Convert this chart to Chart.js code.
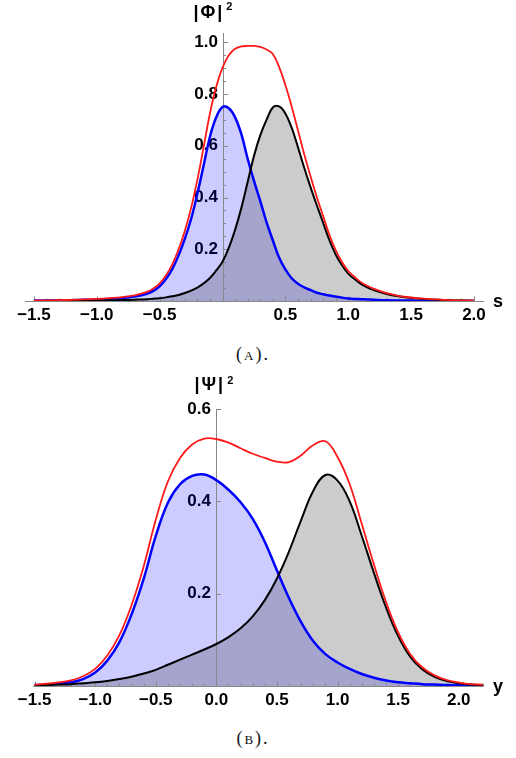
<!DOCTYPE html>
<html>
<head>
<meta charset="utf-8">
<script src="https://cdn.jsdelivr.net/npm/chart.js@4.4.1/dist/chart.umd.min.js"></script>
<style>
  body { margin: 0; background: #fff; width: 516px; height: 758px; position: relative; overflow: hidden; }
  canvas { position: absolute; left: 0; }
  .caption {
    position: absolute; left: 0; width: 506px; text-align: center;
    font-family: "Liberation Serif", "DejaVu Serif", serif; font-size: 18px;
    letter-spacing: 2px; color: #111;
  }
  .caption .sc { font-size: 13px; }
</style>
</head>
<body>
<canvas id="chartA" width="516" height="330" style="top:0"></canvas>
<div class="caption" style="top:344px">(<span class="sc">A</span>).</div>
<canvas id="chartB" width="516" height="345" style="top:370px"></canvas>
<div class="caption" style="top:728px">(<span class="sc">B</span>).</div>
<script>
// panel (A): |Phi|^2 against s
const sA = [-1.5, -1.3, -1.1, -1.0, -0.9, -0.8, -0.7, -0.6, -0.55, -0.5, -0.45, -0.4, -0.35, -0.3, -0.25, -0.2, -0.15, -0.1, -0.05, 0,
  0.05, 0.1, 0.15, 0.2, 0.25, 0.3, 0.35, 0.4, 0.45, 0.5, 0.55, 0.6, 0.65, 0.7, 0.75, 0.8, 0.85, 0.9, 0.95, 1.0,
  1.05, 1.1, 1.15, 1.2, 1.3, 1.4, 1.5, 1.6, 1.8, 2.0];
const blueA = [0.0015, 0.0025, 0.0045, 0.006, 0.008, 0.011, 0.017, 0.028, 0.039, 0.057, 0.085, 0.123, 0.176, 0.240, 0.317, 0.415, 0.525, 0.635, 0.710, 0.750,
  0.745, 0.710, 0.645, 0.550, 0.465, 0.387, 0.305, 0.235, 0.168, 0.122, 0.088, 0.067, 0.053, 0.042, 0.032, 0.026, 0.021, 0.017, 0.013, 0.010,
  0.008, 0.007, 0.006, 0.005, 0.003, 0.002, 0.0015, 0.001, 0.0005, 0.0003];
const blackA = [0.0003, 0.0006, 0.0012, 0.0018, 0.0025, 0.0035, 0.005, 0.007, 0.009, 0.011, 0.014, 0.018, 0.023, 0.031, 0.040, 0.052, 0.068, 0.089, 0.118, 0.152,
  0.205, 0.275, 0.360, 0.460, 0.560, 0.640, 0.700, 0.748, 0.752, 0.725, 0.670, 0.595, 0.515, 0.440, 0.370, 0.303, 0.235, 0.180, 0.138, 0.106,
  0.085, 0.066, 0.053, 0.043, 0.028, 0.018, 0.012, 0.008, 0.003, 0.001];
const redA = [0.002, 0.003, 0.006, 0.008, 0.011, 0.015, 0.022, 0.035, 0.048, 0.068, 0.099, 0.141, 0.199, 0.271, 0.359, 0.468, 0.595, 0.725, 0.828, 0.902,
  0.950, 0.975, 0.984, 0.986, 0.986, 0.982, 0.972, 0.955, 0.905, 0.835, 0.752, 0.660, 0.567, 0.482, 0.402, 0.329, 0.256, 0.197, 0.151, 0.116,
  0.093, 0.073, 0.059, 0.048, 0.031, 0.020, 0.0135, 0.009, 0.0035, 0.0013];
const xTicksA = [-1.5, -1.0, -0.5, 0.5, 1.0, 1.5, 2.0];
const yTicksA = [0.2, 0.4, 0.6, 0.8, 1.0];

// panel (B): |Psi|^2 against y
const sB = [-1.5, -1.4, -1.3, -1.2, -1.1, -1.0, -0.9, -0.8, -0.7, -0.6, -0.5, -0.4, -0.3, -0.2, -0.1, 0.0, 0.1, 0.2, 0.3,
  0.4, 0.5, 0.6, 0.7, 0.8, 0.9, 1.0, 1.1, 1.2, 1.3, 1.4, 1.5, 1.6, 1.7, 1.8, 1.9, 2.0, 2.1, 2.2];
const blueB = [0.002, 0.003, 0.005, 0.008, 0.015, 0.029, 0.055, 0.095, 0.155, 0.232, 0.325, 0.397, 0.437, 0.455, 0.458, 0.446, 0.425, 0.398, 0.362,
  0.312, 0.250, 0.190, 0.138, 0.097, 0.069, 0.051, 0.037, 0.026, 0.018, 0.012, 0.008, 0.006, 0.004, 0.003, 0.002, 0.0015, 0.001, 0.001];
const blackB = [0.001, 0.002, 0.003, 0.004, 0.006, 0.008, 0.011, 0.015, 0.020, 0.027, 0.035, 0.046, 0.057, 0.068, 0.079, 0.091, 0.106, 0.125, 0.151,
  0.186, 0.233, 0.292, 0.360, 0.423, 0.457, 0.445, 0.400, 0.325, 0.245, 0.170, 0.108, 0.063, 0.036, 0.020, 0.011, 0.006, 0.003, 0.002];
const redB = [0.003, 0.005, 0.008, 0.012, 0.021, 0.037, 0.066, 0.110, 0.175, 0.259, 0.360, 0.443, 0.494, 0.523, 0.536, 0.535, 0.527, 0.515, 0.503,
  0.494, 0.486, 0.485, 0.500, 0.522, 0.530, 0.496, 0.437, 0.351, 0.263, 0.182, 0.116, 0.069, 0.040, 0.023, 0.013, 0.0075, 0.004, 0.003];
const xTicksB = [-1.5, -1.0, -0.5, 0.0, 0.5, 1.0, 1.5, 2.0];
const yTicksB = [0.2, 0.4, 0.6];

const FONT = "'Liberation Sans', Arial, sans-serif";
const AXIS_GREY = '#888888';

const range = (from, to, step) => {
  const out = [];
  for (let v = from; v <= to + 1e-9; v += step) out.push(Math.round(v * 1000) / 1000);
  return out;
};

const fmt = (v) => v.toFixed(1).replace('-', '\u2212');

// Mathematica-style axes: y axis line at x = 0, inward ticks, minor ticks, axis names
const axisDecor = {
  id: 'axisDecor',
  beforeDatasetsDraw(chart, args, o) {
    const {ctx, chartArea, scales: {x, y}} = chart;
    const x0 = Math.round(x.getPixelForValue(0)) + 0.5;
    const y0 = y.getPixelForValue(0);
    ctx.save();
    ctx.strokeStyle = AXIS_GREY;
    ctx.lineWidth = 1;
    ctx.beginPath();
    ctx.moveTo(x0, chartArea.top);
    ctx.lineTo(x0, chartArea.bottom);
    const xTick = (v, len) => {
      const p = Math.round(x.getPixelForValue(v)) + 0.5;
      ctx.moveTo(p, y0);
      ctx.lineTo(p, y0 - len);
    };
    const yTick = (v, len) => {
      const p = Math.round(y.getPixelForValue(v)) + 0.5;
      ctx.moveTo(x0, p);
      ctx.lineTo(x0 + len, p);
    };
    o.xMinor.forEach(v => xTick(v, 2.5));
    o.xMajor.forEach(v => xTick(v, 4.5));
    o.yMinor.forEach(v => yTick(v, 2.5));
    o.yMajor.forEach(v => yTick(v, 4.5));
    ctx.stroke();

    ctx.fillStyle = '#000';
    ctx.textBaseline = 'alphabetic';
    ctx.textAlign = 'left';
    ctx.font = 'bold 18px ' + FONT;
    ctx.fillText(o.xName, chartArea.right + 10, y0 + 5.5);

    ctx.letterSpacing = '2px';
    const lx = x0 + o.yNameDx;
    const ly = chartArea.top + o.yNameDy;
    ctx.fillText(o.yName, lx, ly);
    const w = ctx.measureText(o.yName).width;
    ctx.letterSpacing = '0px';
    ctx.font = 'bold 11px ' + FONT;
    ctx.fillText('2', lx + w + 2, ly + o.supDy);
    ctx.restore();
  }
};

const points = (xs, ys) => xs.map((v, i) => ({x: v, y: ys[i]}));

const makeChart = (id, cfg) => {
  const ctx = document.getElementById(id).getContext('2d');
  return new Chart(ctx, {
    type: 'line',
    data: {
      datasets: [{
        data: points(cfg.s, cfg.red),
        borderColor: '#ff1a1a',
        borderWidth: 1.8,
        fill: false
      }, {
        data: points(cfg.s, cfg.black),
        borderColor: '#000000',
        borderWidth: 2,
        backgroundColor: 'rgba(0,0,0,0.2)',
        fill: 'origin'
      }, {
        data: points(cfg.s, cfg.blue),
        borderColor: '#0000ff',
        borderWidth: 2.5,
        backgroundColor: 'rgba(0,0,255,0.2)',
        fill: 'origin'
      }]
    },
    options: {
      responsive: false,
      animation: false,
      devicePixelRatio: 1,
      layout: {padding: cfg.padding},
      elements: {
        point: {radius: 0, hitRadius: 0, hoverRadius: 0},
        line: {tension: 0.4}
      },
      scales: {
        x: {
          type: 'linear',
          position: 'bottom',
          min: cfg.xMin,
          max: cfg.xMax,
          grid: {display: false, drawTicks: false},
          border: {display: true, color: AXIS_GREY, width: 1},
          afterFit: (scale) => { scale.height = 29; },
          afterBuildTicks: (scale) => { scale.ticks = cfg.xTicks.map(v => ({value: v})); },
          ticks: {
            autoSkip: false,
            maxRotation: 0,
            padding: 4,
            color: '#000',
            font: {family: FONT, size: 17, weight: 'bold'},
            callback: (v) => fmt(v)
          }
        },
        y: {
          type: 'linear',
          // labels sit a few pixels left of the x = 0 axis line
          position: {x: cfg.yLabelAt},
          min: 0,
          max: cfg.yMax,
          grid: {display: false, drawTicks: false},
          border: {display: false},
          afterBuildTicks: (scale) => { scale.ticks = cfg.yTicks.map(v => ({value: v})); },
          ticks: {
            padding: 0,
            color: '#000',
            font: {family: FONT, size: 17, weight: 'bold'},
            callback: (v) => v.toFixed(1)
          }
        }
      },
      plugins: {
        legend: {display: false},
        tooltip: {enabled: false},
        filler: {drawTime: 'beforeDatasetsDraw'},
        axisDecor: cfg.decor
      }
    },
    plugins: [axisDecor]
  });
};

makeChart('chartA', {
  s: sA, blue: blueA, black: blackA, red: redA,
  xTicks: xTicksA, yTicks: yTicksA,
  xMin: -1.571, xMax: 2.072, yMax: 1.036, yLabelAt: -0.036,
  padding: {left: 25, right: 33, top: 33, bottom: 0},
  decor: {
    xName: 's', yName: '|\u03A6|', yNameDx: -30, yNameDy: -15, supDy: -8,
    xMajor: xTicksA, xMinor: range(-1.5, 2.0, 0.1),
    yMajor: yTicksA, yMinor: range(0.05, 1.0, 0.05)
  }
});

makeChart('chartB', {
  s: sB, blue: blueB, black: blackB, red: redB,
  xTicks: xTicksB, yTicks: yTicksB,
  xMin: -1.513, xMax: 2.2, yMax: 0.6, yLabelAt: -0.045,
  padding: {left: 33, right: 33, top: 39, bottom: 0},
  decor: {
    xName: 'y', yName: '|\u03A8|', yNameDx: -22, yNameDy: -19, supDy: -6,
    xMajor: xTicksB, xMinor: range(-1.5, 2.2, 0.1),
    yMajor: yTicksB, yMinor: []
  }
});
</script>
</body>
</html>
